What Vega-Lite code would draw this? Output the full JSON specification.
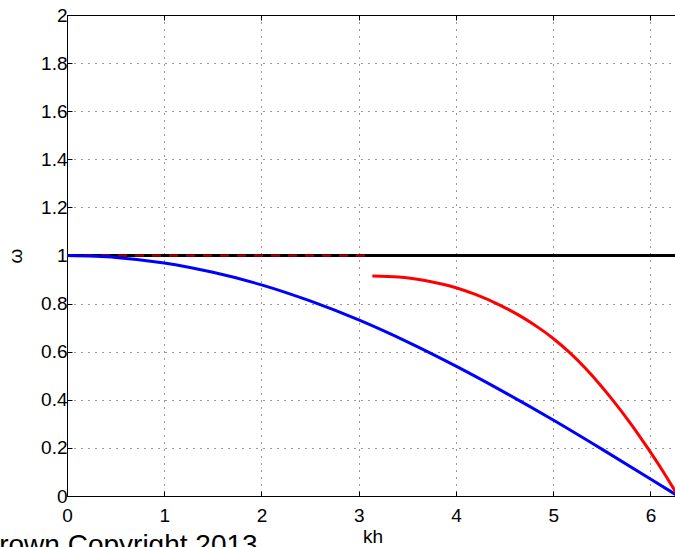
{
  "$schema": "https://vega.github.io/schema/vega-lite/v6.json",
  "autosize": {"type": "none"},
  "padding": {"left": 67, "top": 15, "right": 0, "bottom": 52},
  "width": 611,
  "height": 481,
  "background": "white",
  "config": {
    "font": "Liberation Sans",
    "view": {"stroke": "black", "strokeWidth": 1},
    "axis": {
      "labelFont": "Liberation Sans",
      "titleFont": "Liberation Sans",
      "labelFontSize": 19,
      "titleFontSize": 19,
      "titleFontWeight": "normal",
      "labelColor": "black",
      "titleColor": "black",
      "domainColor": "black",
      "tickColor": "black",
      "gridColor": "black",
      "gridDash": [1, 6],
      "gridOpacity": 0.8,
      "labelFlush": false
    }
  },
  "title": {
    "text": "Crown Copyright 2013",
    "orient": "bottom",
    "anchor": "start",
    "frame": "group",
    "font": "Liberation Sans",
    "fontSize": 28,
    "fontWeight": "normal",
    "color": "black",
    "dx": -88,
    "dy": -14,
    "offset": 0
  },
  "datasets": {
    "ref": [
      {"kh": 0, "w": 1},
      {"kh": 6.2832, "w": 1}
    ],
    "dash": [
      {"kh": 0, "w": 1},
      {"kh": 3.13, "w": 1}
    ],
    "blue": [
      {"kh": 0, "w": 1},
      {"kh": 0.5, "w": 0.992},
      {"kh": 1, "w": 0.969},
      {"kh": 1.5, "w": 0.93},
      {"kh": 2, "w": 0.878},
      {"kh": 2.5, "w": 0.811},
      {"kh": 3, "w": 0.732},
      {"kh": 3.5, "w": 0.641},
      {"kh": 4, "w": 0.54},
      {"kh": 4.5, "w": 0.431},
      {"kh": 5, "w": 0.316},
      {"kh": 5.5, "w": 0.195},
      {"kh": 6, "w": 0.071},
      {"kh": 6.2832, "w": 0.0}
    ],
    "red": [
      {"kh": 3.14, "w": 0.915},
      {"kh": 3.41, "w": 0.911},
      {"kh": 3.68, "w": 0.896},
      {"kh": 4.0, "w": 0.866},
      {"kh": 4.2, "w": 0.838},
      {"kh": 4.445, "w": 0.795},
      {"kh": 4.65, "w": 0.751},
      {"kh": 4.856, "w": 0.698},
      {"kh": 5.0, "w": 0.655},
      {"kh": 5.164, "w": 0.598},
      {"kh": 5.336, "w": 0.529},
      {"kh": 5.473, "w": 0.467},
      {"kh": 5.6, "w": 0.405},
      {"kh": 5.8, "w": 0.299},
      {"kh": 5.96, "w": 0.206},
      {"kh": 6.12, "w": 0.108},
      {"kh": 6.2832, "w": 0.0}
    ]
  },
  "resolve": {"axis": {"x": "independent", "y": "independent"}},
  "layer": [
    {
      "data": {"name": "ref"},
      "mark": {"type": "line", "color": "black", "strokeWidth": 3},
      "encoding": {
        "x": {
          "field": "kh", "type": "quantitative",
          "scale": {"domain": [0, 6.2832], "nice": false, "zero": false},
          "axis": {
            "title": "kh",
            "values": [0, 1, 2, 3, 4, 5, 6],
            "format": "d",
            "grid": true,
            "tickSize": -5,
            "labelPadding": 15,
            "titlePadding": 2
          }
        },
        "y": {
          "field": "w", "type": "quantitative",
          "scale": {"domain": [0, 2], "nice": false},
          "axis": {
            "title": "ω",
            "values": [0, 0.2, 0.4, 0.6, 0.8, 1, 1.2, 1.4, 1.6, 1.8, 2],
            "format": ".1~f",
            "grid": true,
            "tickSize": -5,
            "labelPadding": 5,
            "titlePadding": 15
          }
        }
      }
    },
    {
      "data": {"name": "dash"},
      "mark": {"type": "line", "color": "#a00000", "strokeWidth": 2.5, "strokeDash": [9, 8]},
      "encoding": {
        "x": {
          "field": "kh", "type": "quantitative",
          "scale": {"domain": [0, 6.2832], "nice": false, "zero": false},
          "axis": {
            "orient": "top",
            "title": null,
            "labels": false,
            "domain": false,
            "grid": false,
            "values": [0, 1, 2, 3, 4, 5, 6],
            "tickSize": -5
          }
        },
        "y": {"field": "w", "type": "quantitative", "axis": null}
      }
    },
    {
      "data": {"name": "blue"},
      "mark": {"type": "line", "color": "#0000ff", "strokeWidth": 3, "interpolate": "monotone"},
      "encoding": {
        "x": {"field": "kh", "type": "quantitative", "axis": null},
        "y": {"field": "w", "type": "quantitative", "axis": null}
      }
    },
    {
      "data": {"name": "red"},
      "mark": {"type": "line", "color": "#ff0000", "strokeWidth": 3, "interpolate": "monotone"},
      "encoding": {
        "x": {"field": "kh", "type": "quantitative", "axis": null},
        "y": {"field": "w", "type": "quantitative", "axis": null}
      }
    }
  ]
}
